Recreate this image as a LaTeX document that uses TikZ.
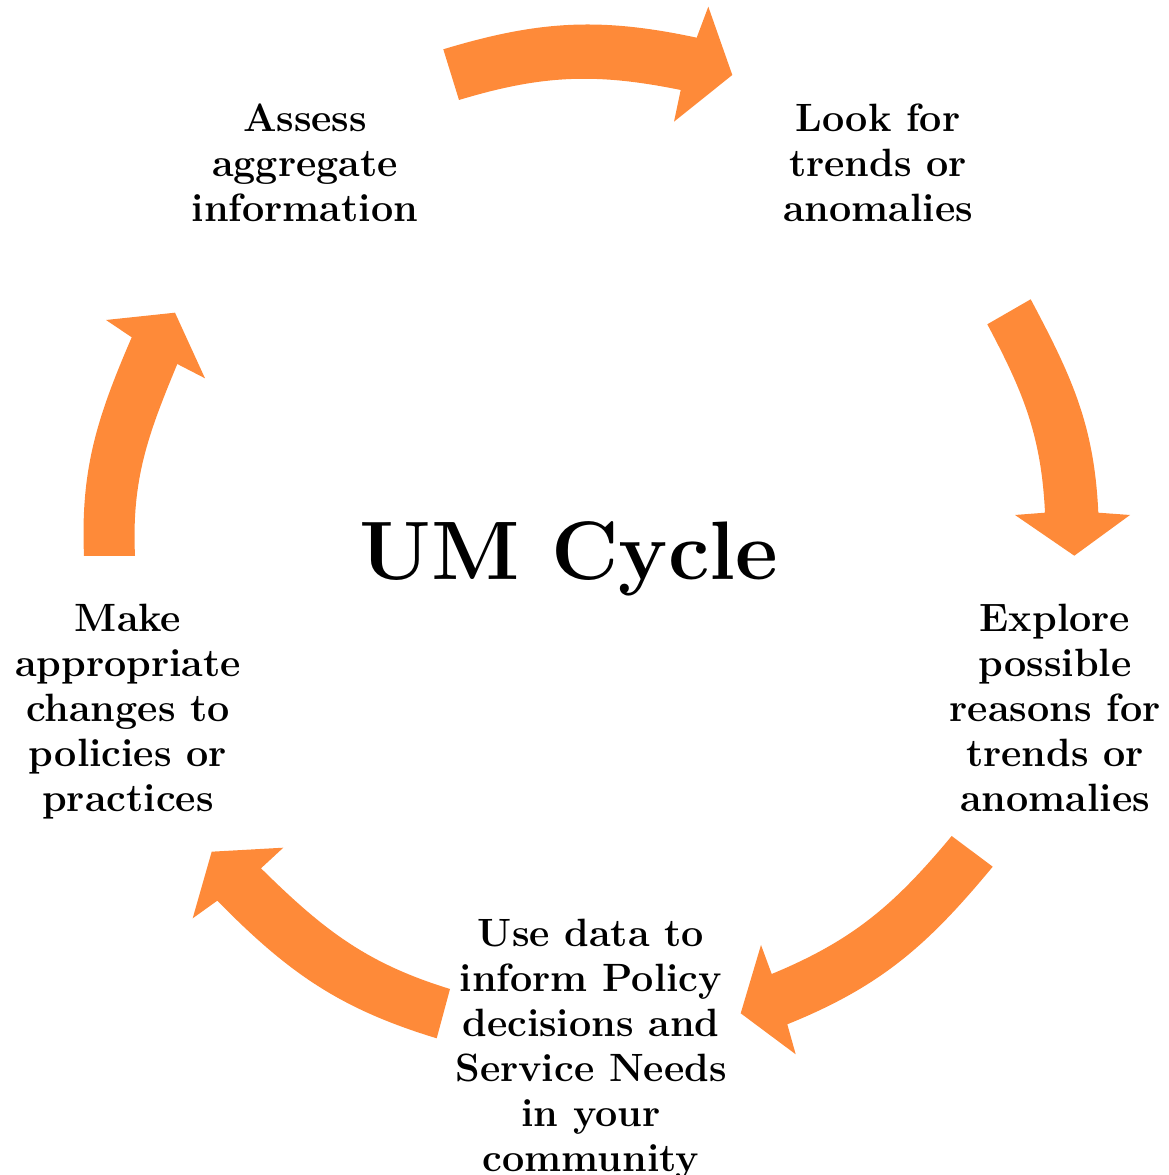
\documentclass[tikz,border=0pt]{standalone}
\definecolor{arrorange}{HTML}{FE8A39}
\tikzset{
  arr/.style={fill=arrorange, draw=none},
  lbl/.style={font=\bfseries\fontsize{39.5}{45}\selectfont, align=center, inner sep=0pt, anchor=north},
  ttl/.style={font=\bfseries\fontsize{83}{100}\selectfont, inner sep=0pt, anchor=base}
}
\begin{document}
\begin{tikzpicture}[x=1pt,y=1pt]
\useasboundingbox (0,0) rectangle (1168,1175);
% arrows
\fill[arr] (443.3,1125.7) to[out=16.8,in=167.9] (696.7,1137.3) -- (708.3,1168.3) -- (732.3,1100) -- (674,1053.3) -- (680.7,1085) to[out=168.5,in=16.8] (459,1075) -- cycle;
\fill[arr] (1030.7,875.7) to[out=-62,in=92.6] (1098.3,662.3) -- (1130,660) -- (1074.3,619.3) -- (1015,660) -- (1045,662.3) to[out=92.8,in=-62] (987.3,850.7) -- cycle;
\fill[arr] (992.7,308.3) to[out=-129.6,in=22] (787.3,150.7) -- (795.7,120.7) -- (740.7,161.7) -- (761,230) -- (771.7,201) to[out=22.5,in=-129.8] (951.7,339) -- cycle;
\fill[arr] (436.7,136.7) to[out=163.1,in=-45.5] (217.3,274.3) -- (192.7,256.7) -- (211.7,323.3) -- (283.3,327.3) -- (261,306.7) to[out=-44.6,in=162.9] (450,186) -- cycle;
\fill[arr] (84,619) to[out=92.4,in=246.7] (131.7,837.7) -- (106,855) -- (175,862.3) -- (205,796.7) -- (177.3,811) to[out=247.5,in=92.6] (135,619) -- cycle;
% labels
\node[lbl] (assess) at (305,1071) {Assess\\aggregate\\information};
\node[lbl] (look) at (878,1071) {Look for\\trends or\\anomalies};
\node[lbl] (explore) at (1055,571) {Explore\\possible\\reasons for\\trends or\\anomalies};
\node[lbl] (use) at (591,256) {Use data to\\inform Policy\\decisions and\\Service Needs\\in your\\community};
\node[lbl] (make) at (128,571) {Make\\appropriate\\changes to\\policies or\\practices};
\node[ttl] (title) at (569,595) {UM Cycle};
\end{tikzpicture}
\end{document}
